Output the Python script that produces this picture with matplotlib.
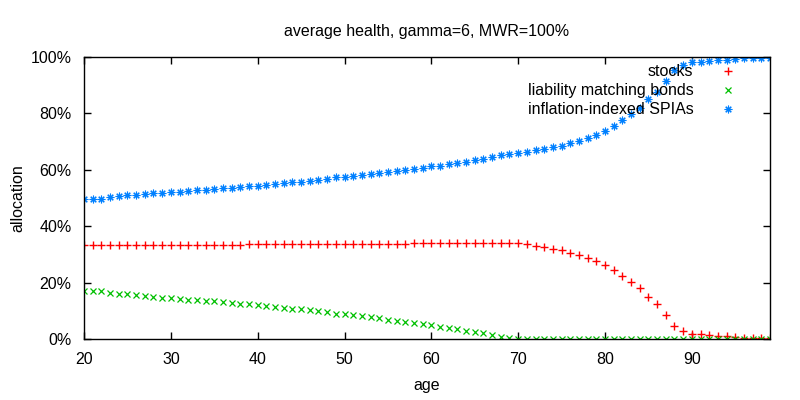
import matplotlib
matplotlib.use('Agg')
import matplotlib.pyplot as plt
from matplotlib.ticker import FuncFormatter

plt.rcParams['font.family'] = ['Liberation Sans', 'DejaVu Sans']

# allocation by age (percent)
ages = list(range(20, 100))

stocks = [
    33.2, 33.3, 33.3, 33.3, 33.3, 33.3, 33.3, 33.3, 33.4, 33.4,
    33.4, 33.4, 33.4, 33.4, 33.4, 33.5, 33.5, 33.5, 33.5, 33.6,
    33.7, 33.7, 33.7, 33.7, 33.7, 33.7, 33.7, 33.7, 33.7, 33.7,
    33.7, 33.7, 33.7, 33.8, 33.8, 33.8, 33.8, 33.8, 34.0, 34.0,
    34.0, 34.1, 34.1, 34.1, 34.1, 34.1, 34.1, 34.1, 34.1, 34.1,
    34.0, 33.6, 33.0, 32.8, 31.8, 31.5, 30.4, 29.8, 28.6, 27.7,
    26.3, 24.5, 22.4, 20.3, 18.0, 14.8, 12.3, 8.4, 4.6, 2.8,
    1.8, 1.8, 1.3, 1.1, 1.1, 0.8, 0.4, 0.4, 0.4, 0.4,
]

bonds = [
    17.0, 17.1, 17.0, 16.3, 15.9, 15.8, 15.5, 15.4, 14.9, 14.7,
    14.5, 14.3, 14.0, 13.9, 13.6, 13.3, 13.1, 12.8, 12.5, 12.3,
    12.0, 11.7, 11.4, 11.1, 10.8, 10.5, 10.2, 9.8, 9.5, 9.0,
    8.7, 8.4, 8.1, 7.7, 7.3, 6.9, 6.5, 6.1, 5.6, 5.2,
    4.8, 4.4, 3.9, 3.5, 3.0, 2.5, 2.0, 1.4, 0.8, 0.2,
    0, 0, 0, 0, 0, 0, 0, 0, 0, 0,
    0, 0, 0, 0, 0, 0, 0, 0, 0, 0,
    0, 0, 0, 0, 0, 0, 0, 0, 0, 0,
]

spias = [
    49.8, 49.6, 49.7, 50.4, 50.8, 50.9, 51.2, 51.3, 51.7, 51.9,
    52.1, 52.3, 52.6, 52.7, 53.0, 53.2, 53.4, 53.7, 54.0, 54.1,
    54.3, 54.6, 54.9, 55.2, 55.5, 55.8, 56.1, 56.5, 56.8, 57.3,
    57.6, 57.9, 58.2, 58.5, 58.9, 59.3, 59.7, 60.1, 60.4, 60.8,
    61.2, 61.5, 62.0, 62.4, 62.9, 63.4, 63.9, 64.5, 65.1, 65.7,
    66.0, 66.4, 67.0, 67.2, 68.2, 68.5, 69.6, 70.2, 71.4, 72.3,
    73.7, 75.5, 77.6, 79.7, 82.0, 85.2, 87.7, 91.6, 95.4, 97.2,
    98.2, 98.2, 98.7, 98.9, 98.9, 99.2, 99.6, 99.6, 99.6, 99.6,
]

series_labels = ['stocks', 'liability matching bonds', 'inflation-indexed SPIAs']

fs = 11.5
fig = plt.figure(figsize=(8, 4), dpi=100)
ax = fig.add_axes([0.105, 0.1525, 0.8575, 0.705])

ax.plot(ages, stocks, linestyle='none', marker='+', markersize=6,
        markeredgewidth=1, color='#ff0000', label=series_labels[0])
ax.plot(ages, bonds, linestyle='none', marker='x', markersize=5,
        markeredgewidth=0.9, color='#00c000', label=series_labels[1])
ax.plot(ages, spias, linestyle='none', marker=(8, 2, 0), markersize=5.5,
        markeredgewidth=0.8, color='#0080ff', label=series_labels[2])

ax.set_xlim(20, 99)
ax.set_ylim(0, 100)
ax.set_xticks(range(20, 100, 10))
ax.set_yticks(range(0, 101, 20))
ax.yaxis.set_major_formatter(FuncFormatter(lambda v, p: '%d%%' % v))
ax.tick_params(direction='in', length=5, width=1, top=True, right=True,
               labelsize=fs, pad=9, colors='black')
for s in ax.spines.values():
    s.set_linewidth(1)

ax.set_xlabel('age', fontsize=fs, labelpad=8)
ax.set_ylabel('allocation', fontsize=fs, labelpad=4)
ax.set_title('average health, gamma=6, MWR=100%', fontsize=fs, pad=15)

ax.legend(loc='upper right', bbox_to_anchor=(0.951, 0.974), frameon=False,
          markerfirst=False, fontsize=fs, handlelength=1.0,
          handletextpad=1.7, labelspacing=0.25, borderaxespad=0,
          borderpad=0)

fig.savefig('out.png', dpi=100)
